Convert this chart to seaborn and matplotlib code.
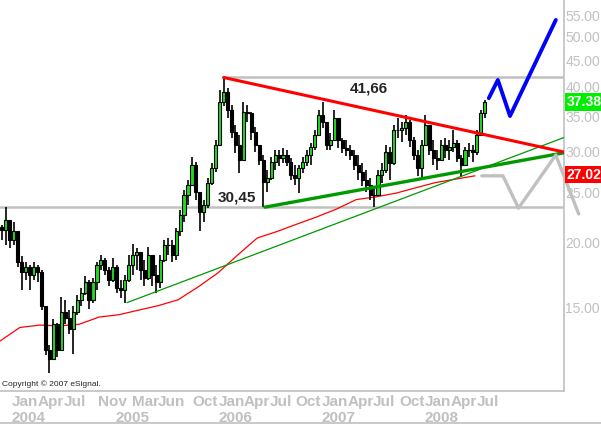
import numpy as np
import pandas as pd
import matplotlib
matplotlib.use("Agg")
import matplotlib.pyplot as plt
import seaborn as sns
from matplotlib.lines import Line2D

# bi-weekly candles
bar_dates = pd.date_range("2003-11-27", periods=123, freq="14D")
first_open = 21.4
highs = [21.6, 23.4, 21.9, 21.9, 20.4, 18.8, 18.3, 18.1, 18.3, 18.1,
         17.7, 15.1, 12.7, 14.2, 14.0, 15.7, 15.5, 14.8, 15.1, 15.8,
         16.3, 17.2, 16.9, 17.1, 18.3, 18.9, 18.7, 17.9, 18.7, 18.1,
         16.9, 17.3, 18.9, 19.9, 19.5, 19.2, 18.5, 19.6, 18.9, 18.1,
         18.9, 20.2, 20.4, 20.2, 21.3, 23.1, 25.3, 26.4, 29.2, 28.6,
         25.0, 24.2, 26.6, 28.5, 31.5, 39.4, 41.66, 39.7, 36.8, 33.7,
         32.2, 37.4, 36.8, 35.7, 33.4, 30.8, 29.5, 27.6, 29.2, 30.2,
         30.2, 30.4, 30.2, 29.1, 28.2, 28.2, 29.2, 30.2, 31.1, 33.0,
         36.0, 37.4, 33.7, 32.5, 36.0, 34.2, 31.8, 31.5, 30.8, 30.2,
         29.5, 28.5, 27.6, 26.6, 25.5, 27.6, 28.5, 30.8, 30.6, 33.7,
         34.8, 34.2, 35.2, 34.5, 31.9, 30.2, 31.5, 35.2, 33.3, 31.5,
         30.2, 31.5, 31.8, 31.5, 33.0, 31.5, 29.5, 30.6, 31.1, 30.8,
         33.0, 36.0, 37.7]
lows = [20.2, 19.8, 19.5, 19.8, 17.9, 16.2, 16.9, 16.2, 16.9, 16.8,
        14.8, 12.1, 11.2, 12.1, 12.0, 12.7, 13.9, 13.3, 12.2, 14.5,
        15.1, 15.8, 14.9, 15.3, 16.2, 17.7, 17.3, 16.5, 16.8, 16.0,
        15.6, 15.3, 16.8, 17.3, 17.7, 16.9, 16.5, 16.9, 16.5, 16.0,
        16.3, 18.3, 18.9, 18.3, 18.5, 20.6, 21.9, 23.6, 25.8, 24.2,
        21.0, 21.9, 23.3, 25.8, 27.4, 33.0, 36.7, 34.8, 31.8, 29.8,
        27.2, 31.5, 34.2, 31.5, 29.9, 28.2, 23.4, 25.0, 26.4, 27.6,
        28.1, 28.5, 28.1, 26.4, 25.8, 24.9, 27.2, 28.1, 28.2, 30.2,
        32.2, 33.3, 30.2, 30.2, 31.5, 30.4, 29.8, 29.4, 28.9, 27.6,
        26.4, 25.7, 25.0, 24.2, 23.4, 25.3, 26.1, 27.2, 26.4, 28.2,
        31.8, 31.2, 32.2, 30.6, 28.9, 26.9, 26.4, 30.8, 29.5, 28.2,
        27.6, 28.9, 29.1, 28.9, 29.9, 28.6, 26.8, 28.1, 29.2, 28.6,
        29.5, 32.2, 34.8]
closes = [21.1, 22.1, 20.2, 21.0, 18.3, 17.5, 17.9, 17.3, 17.9, 17.5,
          15.1, 12.4, 11.9, 13.9, 12.4, 14.7, 14.3, 13.6, 14.7, 15.5,
          16.0, 16.8, 15.5, 16.8, 18.1, 18.5, 17.7, 16.9, 17.9, 16.3,
          16.2, 16.9, 18.1, 18.9, 19.2, 17.7, 17.1, 18.9, 17.3, 16.8,
          18.5, 19.8, 19.8, 18.9, 21.0, 22.6, 24.7, 25.8, 28.2, 25.0,
          22.9, 23.6, 26.1, 27.9, 30.8, 37.4, 39.0, 36.0, 32.7, 30.8,
          28.9, 35.7, 35.6, 32.7, 30.8, 28.9, 26.2, 26.6, 28.6, 29.5,
          29.1, 29.5, 28.6, 27.0, 26.6, 27.9, 28.6, 29.5, 30.6, 32.2,
          35.2, 34.2, 30.8, 31.5, 34.8, 31.5, 30.4, 30.2, 29.5, 28.2,
          27.4, 26.4, 25.8, 24.7, 24.7, 27.0, 27.6, 29.9, 28.5, 33.0,
          33.0, 33.3, 34.2, 31.5, 29.5, 27.9, 30.8, 33.7, 30.2, 29.1,
          28.9, 30.8, 30.2, 30.6, 31.1, 29.1, 28.2, 30.2, 30.2, 29.9,
          32.2, 35.6, 37.38]

# 200-day moving average (red thin line)
ma_dates = pd.date_range("2003-11-20", periods=25, freq="70D")
ma_values = [12.9, 13.7, 13.85, 13.8, 13.9, 14.35, 14.5, 14.8, 15.1, 15.5,
             16.4, 17.45, 18.9, 20.4, 21.0, 21.7, 22.4, 23.2, 24.2, 24.5,
             24.9, 25.5, 26.1, 26.5, 26.9]

# trend lines and projections
red_dates = pd.to_datetime(["2006-01-19", "2009-05-07"])
red_values = [41.66, 29.9]
green_dates = pd.to_datetime(["2006-06-14", "2009-05-07"])
green_values = [23.4, 29.8]
thin_dates = pd.to_datetime(["2005-02-11", "2009-05-07"])
thin_values = [15.3, 31.9]
blue_dates = pd.to_datetime(["2008-08-14", "2008-09-15", "2008-10-28", "2009-04-08"])
blue_values = [38.0, 41.2, 35.1, 53.8]
gray_dates = pd.to_datetime(["2008-07-20", "2008-10-03", "2008-11-27", "2009-04-08", "2009-06-28"])
gray_values = [26.9, 26.9, 23.3, 29.5, 22.7]

month_ticks = ["2004-01-01", "2004-04-01", "2004-07-01", "2004-11-01", "2005-03-01",
               "2005-06-01", "2005-10-01", "2006-01-01", "2006-04-01", "2006-07-01",
               "2006-10-01", "2007-01-01", "2007-04-01", "2007-07-01", "2007-10-01",
               "2008-01-01", "2008-04-01", "2008-07-01"]
year_ticks = ["2004-01-01", "2005-01-01", "2006-01-01", "2007-01-01", "2008-01-01"]
y_ticks = [15, 20, 25, 30, 35, 40, 45, 50, 55]

sns.set_style("white")
plt.rcParams["font.family"] = ["Liberation Sans", "DejaVu Sans"]

fig = plt.figure(figsize=(6.01, 4.25), dpi=100)
ax = fig.add_axes([0, 1 - 391 / 425, 564 / 601, 391 / 425])
ax.set_yscale("log")
ax.set_ylim(10.33, 58.8)
ax.set_xlim(pd.Timestamp("2003-11-20"), pd.Timestamp("2009-05-07"))

gray = "#c0c0c0"
# horizontal reference lines
ax.axhline(23.4, color=gray, linewidth=1.8, zorder=1)
ax.plot([pd.Timestamp("2006-01-19"), pd.Timestamp("2009-05-07")], [41.66, 41.66],
        color=gray, linewidth=1.8, zorder=1)

# candles
o = np.array([first_open] + closes[:-1])
c = np.array(closes)
up = c >= o
ax.vlines(bar_dates, lows, highs, color="black", linewidth=1.2, zorder=3)
ax.bar(bar_dates[up], (c - o)[up], bottom=o[up], width=11, color="#22dd22",
       edgecolor="black", linewidth=0.8, zorder=4)
ax.bar(bar_dates[~up], (c - o)[~up], bottom=o[~up], width=11, color="black",
       edgecolor="black", linewidth=0.8, zorder=4)

sns.lineplot(x=ma_dates, y=ma_values, ax=ax, color="red", linewidth=0.9, zorder=2)
sns.lineplot(x=thin_dates, y=thin_values, ax=ax, color="#009900", linewidth=0.9, zorder=5)
sns.lineplot(x=green_dates, y=green_values, ax=ax, color="#009900", linewidth=2.4, zorder=5)
sns.lineplot(x=red_dates, y=red_values, ax=ax, color="red", linewidth=2.2, zorder=6)
sns.lineplot(x=blue_dates, y=blue_values, ax=ax, color="#0000ff", linewidth=2.8, zorder=6)
sns.lineplot(x=gray_dates, y=gray_values, ax=ax, color=gray, linewidth=2.4, zorder=6)
ax.lines[-1].set_clip_on(False)

ax.text(0.62, 41.0, "41,66", transform=ax.get_yaxis_transform(), fontsize=11,
        fontweight="bold", ha="left", va="top")
ax.text(218 / 564, 24.4, "30,45", transform=ax.get_yaxis_transform(), fontsize=11,
        fontweight="bold", ha="left", va="center")
ax.text(0.003, 0.018, "Copyright \u00a9 2007 eSignal.", transform=ax.transAxes,
        fontsize=6, ha="left", va="center")

# right axis
ax.yaxis.tick_right()
ax.set_yticks(y_ticks)
ax.set_yticklabels([f"{v:.2f}" for v in y_ticks])
ax.yaxis.set_minor_locator(matplotlib.ticker.NullLocator())
ax.tick_params(axis="y", length=0, pad=1, labelsize=10, labelcolor=gray)
ax.set_xticks([])
ax.set_xlabel("")
ax.set_ylabel("")

for side in ["top", "left"]:
    ax.spines[side].set_visible(False)
for side in ["right", "bottom"]:
    ax.spines[side].set_color(gray)
    ax.spines[side].set_linewidth(1.2)

# price boxes
for val, bg in [(37.38, "#00ee00"), (27.02, "#ff0000")]:
    ax.text(1.004, val, f"{val:.2f}", transform=ax.get_yaxis_transform(),
            fontsize=10, fontweight="bold", color="white", ha="left", va="center",
            bbox=dict(boxstyle="square,pad=0.12", fc=bg, ec="none"), zorder=10, clip_on=False)

# month / year labels
xt = ax.get_xaxis_transform()
for d in month_ticks:
    ts = pd.Timestamp(d)
    ax.text(ts, -0.028, ts.strftime("%b"), transform=xt, fontsize=11, fontweight="bold",
            color=gray, ha="left", va="center", clip_on=False)
for d in year_ticks:
    ts = pd.Timestamp(d)
    ax.text(ts, -0.069, ts.strftime("%Y"), transform=xt, fontsize=11, fontweight="bold",
            color=gray, ha="left", va="center", clip_on=False)

fig.add_artist(Line2D([0, 1], [1 - 423 / 425] * 2, transform=fig.transFigure,
                      color=gray, linewidth=1.2))

fig.savefig("out.png", dpi=100)
